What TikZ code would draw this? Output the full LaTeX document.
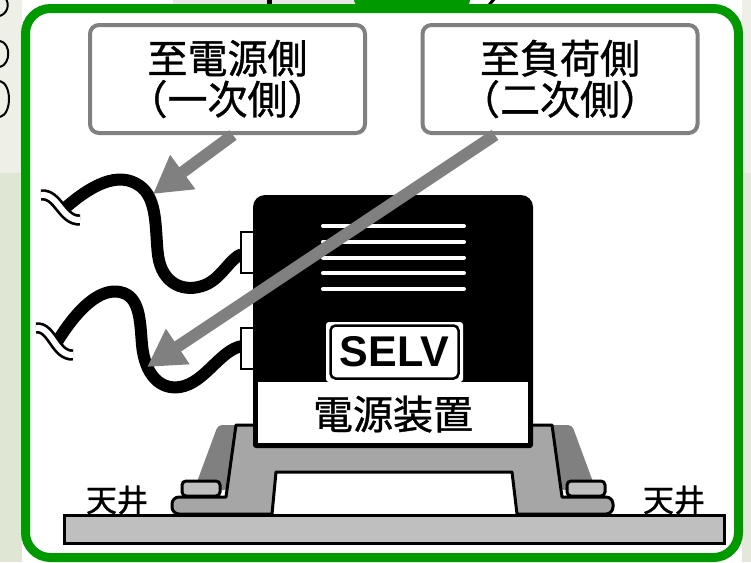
\documentclass[tikz,border=0pt]{standalone}
\usepackage{fontspec}
\newfontfamily\jpfont{Noto Sans CJK JP}[FakeBold=1]
\newfontfamily\selvfont{Liberation Sans}
\usetikzlibrary{arrows.meta,calc}

\tikzset{
  frame line/.style={draw={rgb, 255:red, 0; green, 153; blue, 0}, line width=9pt, rounded corners=25pt, fill=white},
  callout box/.style={draw={rgb, 255:red, 128; green, 128; blue, 128}, line width=4pt, rounded corners=9pt, fill=white,
    minimum width=275pt, minimum height=108pt, inner sep=0pt, align=center,
    font=\jpfont\fontsize{40}{41}\selectfont},
  callout arrow/.style={draw={rgb, 255:red, 128; green, 128; blue, 128}, line width=12pt,
    -{Triangle[length=37pt,width=40pt]}},
  cable/.style={line width=12pt},
  cable break/.style={draw=black, double=white, double distance=6pt, line width=2.7pt},
  vent/.style={white, line width=4pt, line cap=round},
  plug/.style={draw=black, fill=white, line width=2pt},
  shade/.style={fill={rgb, 255:red, 128; green, 128; blue, 128}},
  bracket/.style={draw=black, line width=3pt, fill={rgb, 255:red, 166; green, 166; blue, 166}, line join=round},
  pad/.style={draw=black, line width=3pt, fill={rgb, 255:red, 191; green, 191; blue, 191}, rounded corners=4pt},
  ceiling/.style={draw=black, line width=3pt, fill={rgb, 255:red, 191; green, 191; blue, 191}},
  tag/.style={inner sep=0pt, font=\jpfont\fontsize{31}{31}\selectfont}
}

\begin{document}
\begin{tikzpicture}[x=1pt,y=1pt,yscale=-1]
\useasboundingbox (0,0) rectangle (751,562);

%Page edges around the panel
\fill[fill={rgb, 255:red, 238; green, 240; blue, 232}] (0,0) rectangle (22,173);
\fill[fill={rgb, 255:red, 223; green, 230; blue, 211}] (0,173) rectangle (22,562);
\fill[fill={rgb, 255:red, 238; green, 240; blue, 232}] (742,0) rectangle (751,173);
\fill[fill={rgb, 255:red, 227; green, 232; blue, 218}] (742,173) rectangle (751,562);
\fill[fill={rgb, 255:red, 230; green, 230; blue, 230}] (173,0) rectangle (354,4);
\fill (267,0) rectangle (272,4);
\fill[fill={rgb, 255:red, 0; green, 153; blue, 0}] (354,-20) [rounded corners=6pt] -- (470,-20) -- (470,6) -- (354,6) -- cycle;
\draw[line width=3pt] (489,5) -- (495,-2);
\draw[line width=2pt] (2,-5) .. controls (10,0) and (10,12) .. (0,16);
\draw[line width=2pt] (0,41) .. controls (11,43) and (11,64) .. (0,67);
\draw[line width=2pt] (0,81) .. controls (12,84) and (12,114) .. (0,117);

%Shape: Panel frame
\draw[frame line] (25.5,8.5) rectangle (738.5,557.5);

%Shape: Ceiling plate
\draw[ceiling] (64,515) rectangle (724,543);

%Shape: Mounting bracket
\fill[shade, rounded corners=4pt] (218,425) -- (238,425) -- (228,490) -- (194,490) -- cycle;
\fill[shade, rounded corners=4pt] (549,425) -- (572,425) -- (596,490) -- (560,490) -- cycle;
\draw[bracket] (236,425) -- (552,425) -- (562,497) -- (590,497) [rounded corners=7pt] -- (613,497) -- (613,514)
  -- (590,514) [sharp corners] -- (517,514) -- (512,472) -- (276,472) -- (272,514) -- (200,514)
  [rounded corners=7pt] -- (172,514) -- (172,497) -- (200,497) [sharp corners] -- (226,497) -- cycle;
\draw[pad] (182,481) rectangle (220,496);
\draw[pad] (567,481) rectangle (605,496);

% Text Node
\node[tag] (ceilL) at (117,500) {天井};
\node[tag] (ceilR) at (674,500) {天井};

%Cables with break marks
\draw[cable] (64,209) .. controls (90,186) and (118,170) .. (140,186) .. controls (158,199) and (155,230) .. (158,255)
  .. controls (162,285) and (185,293) .. (205,285) .. controls (222,278) and (230,258) .. (242,254);
\draw[cable] (57,342) .. controls (78,308) and (100,288) .. (120,292) .. controls (140,296) and (140,320) .. (142,345)
  .. controls (145,375) and (160,390) .. (180,387) .. controls (205,383) and (220,350) .. (242,346);
\draw[cable break] (41,195) .. controls (58,193) and (62,221) .. (80,220);
\draw[cable break] (36,328) .. controls (52,326) and (55,356) .. (73,355);
\draw[plug] (241,232) rectangle (254,273);
\draw[plug] (241,328) rectangle (254,369);

%Shape: Power supply body
\fill[rounded corners=3pt] (253,448) -- (253,300) [rounded corners=12pt] -- (253,195) -- (533,195) -- (533,300)
  [rounded corners=3pt] -- (533,448) -- cycle;
\foreach \i in {0,...,4}
  \draw[vent] (323,226+15.75*\i) -- (464,226+15.75*\i);
\fill[white] (258,382) rectangle (528,443);
\fill[white, rounded corners=3pt] (326,382) -- (326,322) -- (463,322) -- (463,382) -- cycle;
\node[draw=black, line width=2.5pt, rounded corners=5pt, fill=white, minimum width=128pt, minimum height=53pt,
  inner sep=0pt, font=\selvfont\bfseries\fontsize{43}{43}\selectfont] (selv) at (394.5,352) {SELV};
\node[inner sep=0pt, font=\jpfont\fontsize{40}{40}\selectfont] (psu) at (393,414) {電源装置};

%Callouts
\node[callout box] (src) at (227.5,79) {至電源側\\（一次側）};
\node[callout box] (load) at (560,79) {至負荷側\\（二次側）};
\coordinate (pri) at (153,194);
\coordinate (sec) at (147,367);
\draw[callout arrow] ($(src.south)+(5.5,0)$) -- (pri);
\draw[callout arrow] ($(load.south)+(-65,0)$) -- (sec);

\end{tikzpicture}
\end{document}
